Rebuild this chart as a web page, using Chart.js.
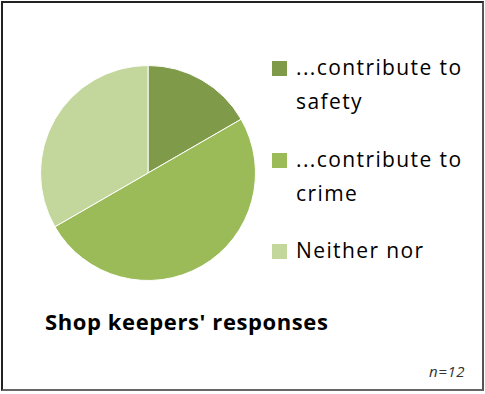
<!DOCTYPE html>
<html lang="en">

<head>
    <meta charset="UTF-8">
    <title>Shop keepers' responses</title>
    <script src="https://cdn.jsdelivr.net/npm/chart.js"></script>
    <style>
        body {
            margin: 0;
            background: #fff;
            width: 485px;
            height: 394px;
            overflow: hidden;
            font-family: "Open Sans", Lato, sans-serif;
        }

        .frame {
            position: absolute;
            left: 1px;
            top: 1px;
            width: 479px;
            height: 386px;
            border: 2px solid #222;
            border-right-color: #555;
            border-bottom-color: #666;
        }

        .pie {
            position: absolute;
            left: 40px;
            top: 65px;
            width: 216px;
            height: 216px;
        }

        .legenda {
            position: absolute;
            left: 272px;
            top: 0;
        }

        .item {
            position: absolute;
            left: 0;
            width: 210px;
            font-size: 21px;
            line-height: 34px;
            letter-spacing: 1.4px;
            color: #000;
        }

        .item .caixa {
            position: absolute;
            left: 0;
            top: 11px;
            width: 15px;
            height: 15px;
        }

        .item .texto {
            margin-left: 24px;
            white-space: nowrap;
        }

        .titulo {
            position: absolute;
            left: 45px;
            top: 306px;
            font-size: 22px;
            font-weight: bold;
            letter-spacing: 0.6px;
            color: #000;
            white-space: nowrap;
        }

        .nota {
            position: absolute;
            left: 429px;
            top: 361px;
            font-size: 15px;
            font-style: italic;
            letter-spacing: 0.6px;
            color: #333;
        }
    </style>
</head>

<body>
    <div class="frame"></div>
    <div class="pie"><canvas id="graficopie"></canvas></div>
    <div class="legenda" id="legenda"></div>
    <div class="titulo">Shop keepers' responses</div>
    <div class="nota">n=12</div>

    <script>
        // respostas (n=12)
        var categorias = ['...contribute to safety', '...contribute to crime', 'Neither nor'];
        var linhasLegenda = [['...contribute to', 'safety'], ['...contribute to', 'crime'], ['Neither nor']];
        var respostas = [2, 6, 4];
        var cores = ['#7f9a48', '#9bbb59', '#c3d69b'];
        var topoLegenda = [50, 142, 233];

        var ctx = document.getElementById('graficopie').getContext('2d');
        var myChart = new Chart(ctx, {
            type: 'pie',
            data: {
                labels: categorias,
                datasets: [{
                    data: respostas,
                    backgroundColor: cores,
                    borderColor: '#ffffff',
                    borderWidth: 1
                }]
            },
            options: {
                responsive: true,
                maintainAspectRatio: false,
                animation: false,
                layout: { padding: 0 },
                plugins: {
                    legend: { display: false },
                    tooltip: { enabled: false }
                }
            }
        });

        // legenda feita a mao
        var legenda = document.getElementById('legenda');
        for (var i = 0; i < categorias.length; i++) {
            var item = document.createElement('div');
            item.className = 'item';
            item.style.top = topoLegenda[i] + 'px';
            item.innerHTML = '<div class="caixa" style="background:' + cores[i] + '"></div>' +
                '<div class="texto">' + linhasLegenda[i].join('<br>') + '</div>';
            legenda.appendChild(item);
        }
    </script>
</body>

</html>
